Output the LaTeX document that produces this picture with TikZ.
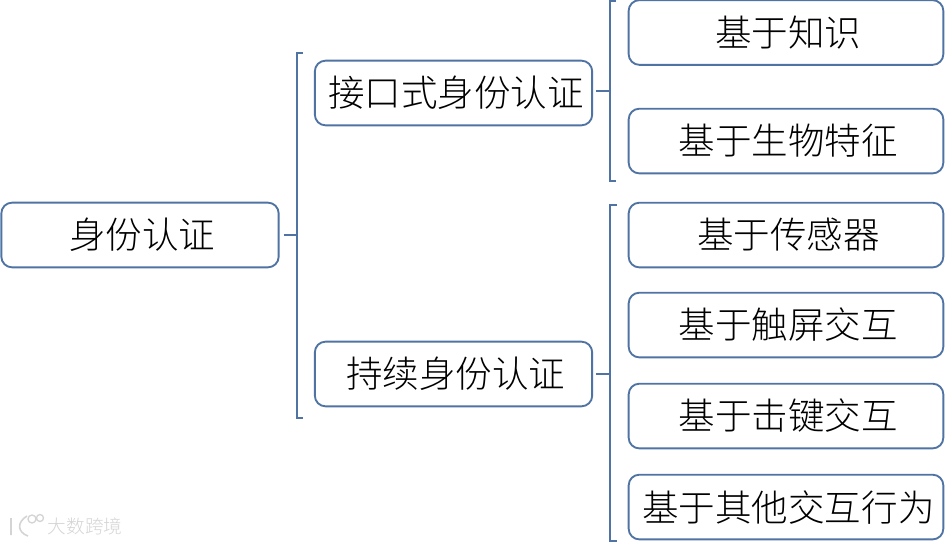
\documentclass[tikz,border=0pt]{standalone}
\usepackage{fontspec}
\setmainfont[UprightFont=* Light]{Noto Sans CJK SC}
\usetikzlibrary{positioning}
\definecolor{boxLine}{HTML}{4F73A3}
\definecolor{markGray}{HTML}{D4D4D4}
\tikzset{
  boxA/.style={rectangle, rounded corners=8pt, draw=boxLine, line width=1.4pt,
               fill=white, align=center, font=\fontsize{27.4}{30}\selectfont,
               execute at begin node=\hspace*{3.6pt},
               inner sep=0pt, minimum width=208pt, minimum height=48.5pt},
  boxLeaf/.style={boxA, minimum width=236pt},
  brace/.style={draw=boxLine, line width=1.3pt},
  stub/.style={draw=boxLine, line width=1.3pt},
}
\begin{document}
\begin{tikzpicture}[x=0.75pt, y=0.75pt]
    \useasboundingbox (0,0) rectangle (946,-544);
    % left side
    \node[boxA] (auth) at (140,-235) {身份认证};
    \node[boxA] (iface) at (453.5,-93) {接口式身份认证};
    \node[boxA] (cont) at (453.5,-374) {持续身份认证};
    % leaves
    \node[boxLeaf] (know) at (786,-32.5) {基于知识};
    \node[boxLeaf, below=31.5pt of know] (bio) {基于生物特征};
    \node[boxLeaf, below=20.6pt of bio] (sensor) {基于传感器};
    \node[boxLeaf, below=17.6pt of sensor] (touch) {基于触屏交互};
    \node[boxLeaf, below=18.35pt of touch] (keys) {基于击键交互};
    \node[boxLeaf, below=18.35pt of keys] (other) {基于其他交互行为};
    % brackets
    \coordinate (jA) at (297,-235);
    \coordinate (jB) at (610,-91);
    \coordinate (jC) at (610,-374);
    \draw[brace] (303,-53) -- (297,-53) -- (297,-418) -- (303,-418);
    \draw[brace] (616,-1) -- (610,-1) -- (610,-181) -- (616,-181);
    \draw[brace] (617,-205) -- (610,-205) -- (610,-541) -- (617,-541);
    \draw[stub] ([xshift=3pt]auth.east) -- (jA);
    \draw[stub] ([xshift=2pt]iface.east |- jB) -- (jB);
    \draw[stub] ([xshift=2pt]cont.east) -- (jC);
    % watermark
    \node[text=markGray, font=\fontsize{14}{14}\selectfont, inner sep=0pt] (mark) at (85,-526) {大数跨境};
    \draw[markGray, line width=1.2pt] (11,-518) -- (11,-535) (27,-516) .. controls (17,-522) and (17,-532) .. (28,-536);
    \draw[markGray, line width=1pt] (32,-519) circle (4) (40,-518) circle (3.5);
\end{tikzpicture}
\end{document}
